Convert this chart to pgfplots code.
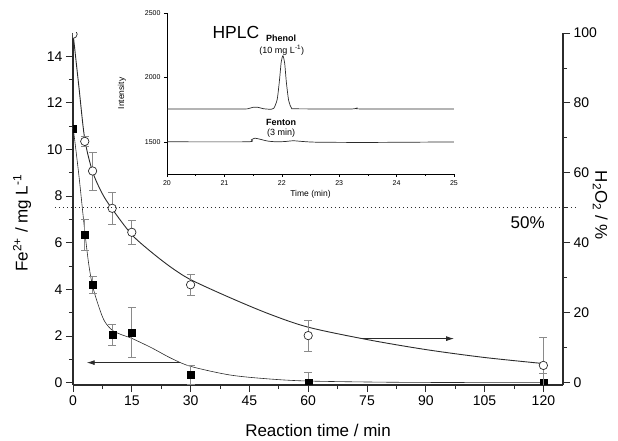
\documentclass[border=0pt]{standalone}
\usepackage{fontspec}
\setmainfont{Liberation Sans}
\usepackage{pgfplots}
\usepackage{pgfplotstable}
\pgfplotsset{compat=1.18}
\usetikzlibrary{arrows.meta}

\definecolor{ink}{HTML}{2B2B2B}
\definecolor{errgray}{HTML}{8A8A8A}

% H2O2 (open circles), plotted on the left scale (15 = 100 %)
\pgfplotstableread{
t    c      ce
0    14.95  0
3    10.35  0.2
5    9.08   0.82
10   7.48   0.7
15   6.45   0.5
30   4.2    0.46
60   2.02   0.66
120  0.74   1.2
}\htwo

% Fe2+ (filled squares)
\pgfplotstableread{
t    f      fe
0    10.9   0
3    6.35   0.66
5    4.2    0.37
10   2.06   0.45
15   2.14   1.07
30   0.34   0.4
60   0.01   0.45
120  0.0    0.4
}\iron

\begin{document}
\begin{tikzpicture}
\pgfplotsset{
  base/.style={
    scale only axis, width=490bp, height=352bp,
    xmin=0, xmax=125,
    tick align=outside, major tick length=7bp, minor tick length=4bp,
    every tick/.style={ink, line width=0.9bp},
    axis line style={ink, line width=1.1bp},
    tick label style={font=\fontsize{14bp}{16bp}\selectfont},
    /pgf/number format/assume math mode=true,
    label style={font=\fontsize{17bp}{20bp}\selectfont},
  },
  errs/.style={
    error bars/.cd, y dir=both, y explicit,
    error bar style={errgray, line width=0.7bp},
    error mark options={errgray, rotate=90, mark size=4bp, line width=0.7bp},
  },
}
\begin{axis}[base, ymin=-0.1, ymax=15,
  axis x line*=bottom, axis y line*=left,
  xtick={0,15,...,120}, minor x tick num=1,
  ytick={0,2,...,14}, minor y tick num=1,
  xlabel={Reaction time / min},
  ylabel={Fe\textsuperscript{2+} / mg L\textsuperscript{-1}},
  xlabel style={at={(axis description cs:0.5,-0.128)}, anchor=center},
  ylabel style={at={(axis description cs:-0.104,0.46)}, anchor=center},
  clip marker paths=true,
]
% fitted curves
\addplot[ink, line width=0.9bp, smooth, tension=0.5] coordinates {
  (0,15.0) (1.5,12.7) (3,10.45) (5,9.05) (7.5,8.1) (10,7.45) (15,6.35)
  (20,5.6) (25,4.95) (30,4.42) (40,3.65) (50,2.95) (60,2.38) (75,1.85)
  (90,1.42) (105,1.08) (120,0.82)
};
\addplot[ink, line width=0.6bp, smooth, tension=0.5] coordinates {
  (0,11.0) (1.5,8.9) (3,6.5) (4,5.1) (5,4.15) (6.5,3.3) (8,2.65) (10,2.25)
  (12.5,2.05) (15,1.9) (20,1.5) (25,1.05) (30,0.7) (40,0.33) (50,0.16)
  (60,0.07) (80,0.02) (100,0.005) (120,0)
};
% measured points
\addplot[only marks, mark=square*, mark size=3.5bp,
  mark options={fill=black, draw=black}, errs]
  table[x=t, y=f, y error=fe] {\iron};
\addplot[only marks, mark=*, mark size=4.2bp,
  mark options={fill=white, draw=ink, line width=0.7bp}, errs]
  table[x=t, y=c, y error=ce] {\htwo};
% arrows pointing at the axis each series belongs to
\draw[ink, line width=0.8bp, -{Latex[length=8bp, width=5bp]}]
  (axis cs:27.2,0.86) -- (axis cs:3.5,0.86);
\draw[ink, line width=0.8bp, -{Latex[length=8bp, width=5bp]}]
  (axis cs:73.5,1.89) -- (axis cs:97.2,1.89);
\node[font=\fontsize{17bp}{20bp}\selectfont] at (axis cs:116,6.85) {50\%};
\coordinate (dl) at (axis cs:-4.6,7.5);
\coordinate (dr) at (axis cs:129,7.5);
\end{axis}

\begin{axis}[base, ymin=-0.667, ymax=100,
  axis x line=none, axis y line*=right,
  ytick={0,20,...,100}, minor y tick num=1,
  ylabel={H\textsubscript{2}O\textsubscript{2} / \%},
  ylabel style={at={(axis description cs:1.076,0.51)}, anchor=center, rotate=180},
]
\end{axis}

\draw[ink, line width=0.8bp, dash pattern=on 1.5bp off 2.5bp] (dl) -- (dr);

% HPLC inset
\begin{axis}[at={(94bp,211bp)}, anchor=south west,
  scale only axis, width=287bp, height=161bp,
  xmin=20, xmax=25, ymin=1250, ymax=2500,
  axis x line*=bottom, axis y line*=left,
  axis line style={black, line width=0.6bp},
  tick align=outside, major tick length=3bp, minor tick length=2bp,
  every tick/.style={black, line width=0.5bp},
  xtick={20,...,25}, minor x tick num=1,
  ytick={1500,2000,2500},
  tick label style={font=\fontsize{7bp}{8bp}\selectfont},
  /pgf/number format/assume math mode=true,
  /pgf/number format/1000 sep={},
  xlabel={Time (min)}, ylabel={Intensity},
  label style={font=\fontsize{8.5bp}{10bp}\selectfont},
  xlabel style={at={(axis description cs:0.5,-0.124)}, anchor=center},
  ylabel style={at={(axis description cs:-0.157,0.5)}, anchor=center},
]
\addplot[ink, line width=0.7bp, smooth, tension=0.4] coordinates {
  (20,1755) (21.3,1755) (21.42,1758) (21.5,1768) (21.58,1768) (21.68,1757)
  (21.78,1753) (21.86,1760) (21.92,1830) (21.96,1980) (21.99,2120) (22.02,2168)
  (22.05,2110) (22.08,1960) (22.12,1820) (22.17,1762) (22.25,1756) (23.2,1755)
  (23.3,1761) (23.4,1755) (25,1755)
};
\addplot[ink, line width=0.7bp, smooth, tension=0.4] coordinates {
  (20,1500) (21.4,1500) (21.47,1515) (21.53,1528) (21.62,1520) (21.75,1506)
  (21.9,1500) (22.05,1502) (22.2,1508) (22.35,1503) (22.6,1497) (23.5,1495)
  (25,1499)
};
\node[font=\fontsize{17.5bp}{20bp}\selectfont] at (axis cs:21.2,2352) {HPLC};
\node[font=\fontsize{9bp}{10bp}\selectfont\bfseries] at (axis cs:21.99,2306) {Phenol};
\node[font=\fontsize{9bp}{10bp}\selectfont] at (axis cs:22.0,2213) {(10 mg L\textsuperscript{-1})};
\node[font=\fontsize{9bp}{10bp}\selectfont\bfseries] at (axis cs:21.99,1647) {Fenton};
\node[font=\fontsize{9bp}{10bp}\selectfont] at (axis cs:21.99,1570) {(3 min)};
\end{axis}

\pgfresetboundingbox
\useasboundingbox (-73bp,-56bp) rectangle (545bp,385bp);
\end{tikzpicture}
\end{document}
